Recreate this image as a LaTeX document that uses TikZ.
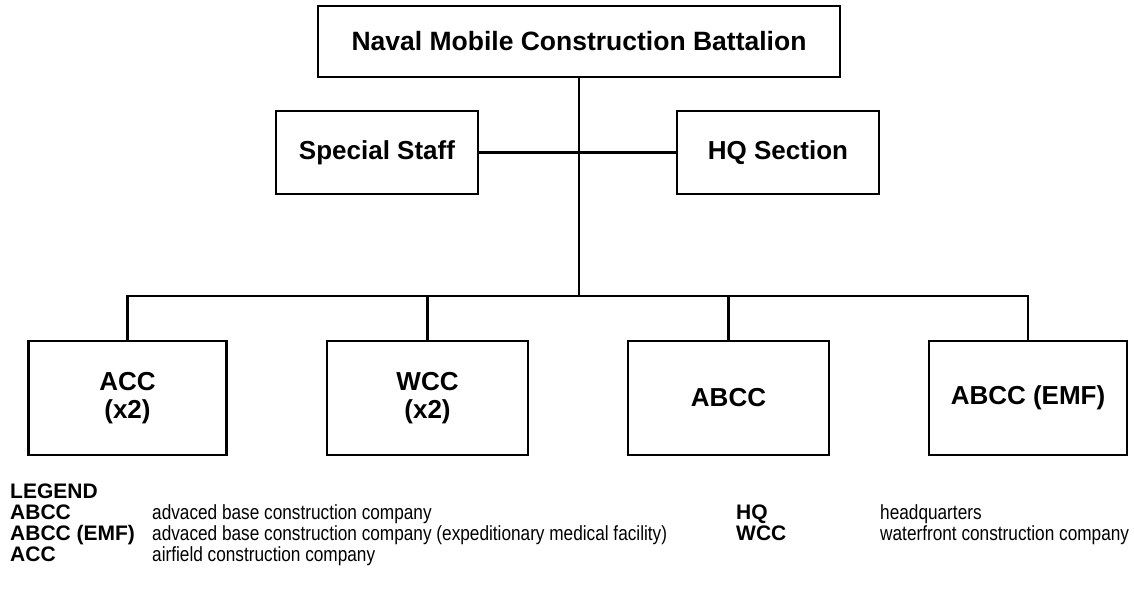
\documentclass[tikz,border=0pt]{standalone}
\usepackage{fontspec}
\setmainfont{Liberation Sans}
\newfontfamily\narrowfont[FakeStretch=0.84]{Liberation Sans}

\begin{document}
\begin{tikzpicture}[x=1pt,y=-1pt,
  unit/.style={draw, line width=2.2pt, inner sep=0pt, align=center,
    font=\bfseries\fontsize{26}{28}\selectfont},
  wire/.style={line width=2.2pt},
  abbr/.style={anchor=base west, inner sep=0pt, font=\bfseries\fontsize{21}{23}\selectfont},
  desc/.style={anchor=base west, inner sep=0pt, font=\narrowfont\fontsize{20.5}{23}\selectfont}]

  % page frame
  \useasboundingbox (0,0) rectangle (1134,602);

  % command and staff
  \node[unit, minimum width=522pt, minimum height=71pt,
        font=\bfseries\fontsize{26.5}{30}\selectfont] (nmcb) at (579,41.5)
    {Naval Mobile Construction Battalion};
  \node[unit, minimum width=202pt, minimum height=83pt] (staff) at (377,152.5)
    {Special Staff};
  \node[unit, minimum width=202pt, minimum height=83pt] (hq) at (778,152.5)
    {HQ Section};

  % companies
  \node[unit, minimum width=198pt, minimum height=114pt] (acc) at (127.5,398)
    {ACC\\(x2)};
  \node[unit, minimum width=201pt, minimum height=114pt] (wcc) at (427.5,398)
    {WCC\\(x2)};
  \node[unit, minimum width=201pt, minimum height=114pt] (abcc) at (728.5,398)
    {ABCC};
  \node[unit, minimum width=198pt, minimum height=114pt] (emf) at (1028,398)
    {ABCC (EMF)};

  % connectors
  \coordinate (bus) at (579,296);
  \draw[wire] (nmcb.south) -- (bus);
  \draw[wire] (staff.east) -- (hq.west);
  \draw[wire] (acc.north) |- (bus) -| (emf.north);
  \draw[wire] (wcc.north) -- (wcc.north |- bus);
  \draw[wire] (abcc.north) -- (abcc.north |- bus);

  % legend (baselines)
  \node[abbr] (lg) at (10,498.5) {LEGEND};
  \node[abbr] (l1) at (10,519.5) {ABCC};
  \node[abbr] (l2) at (10,540.5) {ABCC (EMF)};
  \node[abbr] (l3) at (10,561.5) {ACC};
  \node[desc] (d1) at (152,519.5) {advaced base construction company};
  \node[desc] (d2) at (152,540.5) {advaced base construction company (expeditionary medical facility)};
  \node[desc] (d3) at (152,561.5) {airfield construction company};
  \node[abbr] (l4) at (736,519.5) {HQ};
  \node[abbr] (l5) at (736,540.5) {WCC};
  \node[desc] (d4) at (880,519.5) {headquarters};
  \node[desc] (d5) at (880,540.5) {waterfront construction company};
\end{tikzpicture}
\end{document}
